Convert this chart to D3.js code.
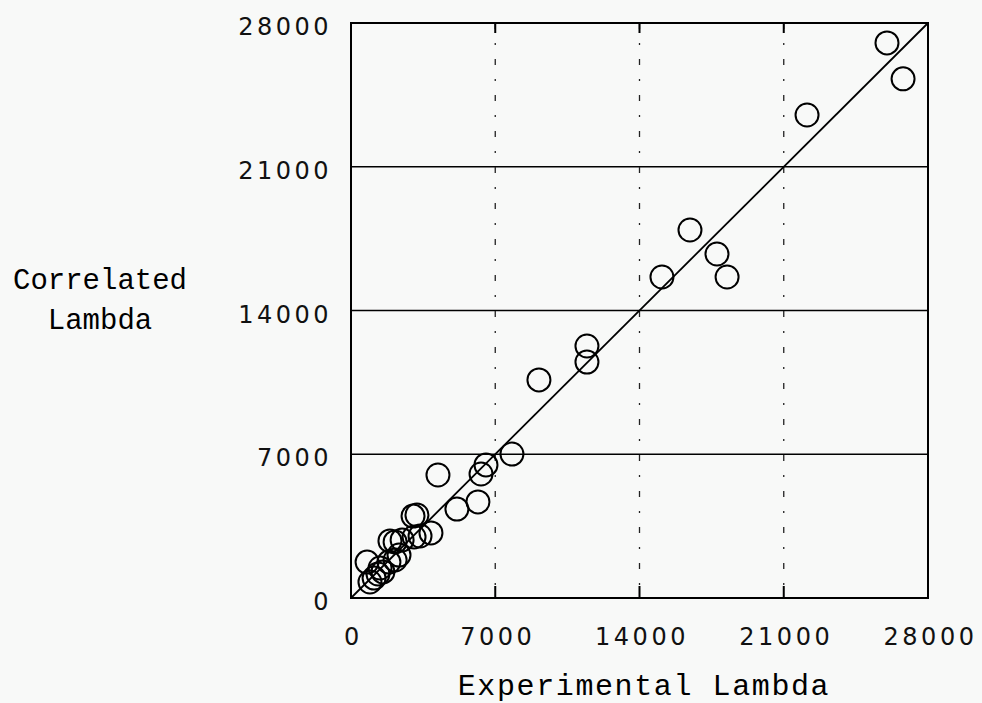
<!DOCTYPE html>
<html>
<head>
<meta charset="utf-8">
<script src="https://cdn.jsdelivr.net/npm/d3@7"></script>
<style>
  body { margin: 0; background: #f8f9f8; }
  svg { display: block; }
</style>
</head>
<body>
<div id="chart"></div>
<script>
// experimental vs correlated lambda
const experimental = [780, 920, 1120, 1310, 1550, 1410, 1840, 2140, 2330, 1890, 2140, 2480,
  3060, 3350, 3880, 3010, 3200, 5140, 6160, 4220, 6310, 6550, 7810, 9120,
  11450, 11450, 15090, 16450, 17760, 18250, 22130, 26010, 26790];
const correlated = [1750, 780, 970, 1170, 1270, 1460, 1750, 1850, 2090, 2780, 2730, 2830,
  2970, 3020, 3170, 3990, 4040, 4330, 4680, 5990, 6040, 6480, 7010, 10620,
  12270, 11490, 15630, 17920, 16750, 15630, 23520, 27030, 25280];
const tickValues = [0, 7000, 14000, 21000, 28000];

const points = experimental.map((d, i) => ({ x: d, y: correlated[i] }));

const width = 982, height = 703;
const plot = { left: 351, right: 928, top: 23, bottom: 598 };

const svg = d3.select("#chart").append("svg")
    .attr("width", width)
    .attr("height", height);

const x = d3.scaleLinear().domain([0, 28000]).range([plot.left, plot.right]);
const y = d3.scaleLinear().domain([0, 28000]).range([plot.bottom, plot.top]);

// horizontal grid lines (solid)
svg.append("g")
    .selectAll("line")
    .data(tickValues.slice(1, -1))
    .join("line")
    .attr("x1", plot.left).attr("x2", plot.right)
    .attr("y1", d => y(d)).attr("y2", d => y(d))
    .style("stroke", "#000")
    .style("stroke-width", 1.6);

// vertical grid lines (broken dash-dot)
const vgrid = svg.append("g");
vgrid.selectAll("line.grid")
    .data(tickValues.slice(1, -1))
    .join("line")
    .attr("class", "grid")
    .attr("x1", d => x(d)).attr("x2", d => x(d))
    .attr("y1", plot.top).attr("y2", plot.bottom)
    .style("stroke", "#222")
    .style("stroke-width", 1.3)
    .style("stroke-dasharray", "6,14,2,14");
vgrid.selectAll("line.ttop")
    .data(tickValues.slice(1, -1))
    .join("line")
    .attr("class", "ttop")
    .attr("x1", d => x(d)).attr("x2", d => x(d))
    .attr("y1", plot.top).attr("y2", plot.top + 10)
    .style("stroke", "#000")
    .style("stroke-width", 2);
vgrid.selectAll("line.tbot")
    .data(tickValues.slice(1, -1))
    .join("line")
    .attr("class", "tbot")
    .attr("x1", d => x(d)).attr("x2", d => x(d))
    .attr("y1", plot.bottom - 12).attr("y2", plot.bottom)
    .style("stroke", "#000")
    .style("stroke-width", 2);

// frame
svg.append("rect")
    .attr("x", plot.left).attr("y", plot.top)
    .attr("width", plot.right - plot.left)
    .attr("height", plot.bottom - plot.top)
    .style("fill", "none")
    .style("stroke", "#000")
    .style("stroke-width", 2);

// axes (labels only, the frame draws the lines)
const xAxis = svg.append("g")
    .attr("transform", "translate(0," + plot.bottom + ")")
    .call(d3.axisBottom(x).tickValues(tickValues).tickSize(0).tickFormat(d3.format("d")));
const yAxis = svg.append("g")
    .attr("transform", "translate(" + plot.left + ",0)")
    .call(d3.axisLeft(y).tickValues(tickValues).tickSize(0).tickPadding(19).tickFormat(d3.format("d")));

[xAxis, yAxis].forEach(g => {
    g.select(".domain").remove();
    g.selectAll("text")
        .style("font-family", "'DejaVu Sans', sans-serif")
        .style("font-size", "24px")
        .style("letter-spacing", "3.5px")
        .style("fill", "#111");
});
xAxis.selectAll("text").attr("y", 47).attr("dy", 0).attr("dx", "2px");
yAxis.selectAll("text").attr("dy", "0.48em");

// diagonal y = x
const line = d3.line()
    .x(d => x(d))
    .y(d => y(d));
svg.append("path")
    .datum([0, 28000])
    .attr("d", line)
    .style("fill", "none")
    .style("stroke", "#000")
    .style("stroke-width", 1.8);

// data circles
svg.append("g")
    .selectAll("circle")
    .data(points)
    .join("circle")
    .attr("cx", d => x(d.x))
    .attr("cy", d => y(d.y))
    .attr("r", 11.5)
    .style("fill", "none")
    .style("stroke", "#000")
    .style("stroke-width", 2);

// axis titles
svg.append("text")
    .attr("x", 644).attr("y", 695)
    .attr("text-anchor", "middle")
    .style("font-family", "'Liberation Mono', monospace")
    .style("font-size", "30px")
    .style("letter-spacing", "1.6px")
    .text("Experimental Lambda");

const ytitle = svg.append("text")
    .attr("text-anchor", "middle")
    .style("font-family", "'Liberation Mono', monospace")
    .style("font-size", "29px")
    .style("letter-spacing", "0px");
ytitle.append("tspan").attr("x", 100).attr("y", 289).text("Correlated");
ytitle.append("tspan").attr("x", 100).attr("y", 329).text("Lambda");
</script>
</body>
</html>
